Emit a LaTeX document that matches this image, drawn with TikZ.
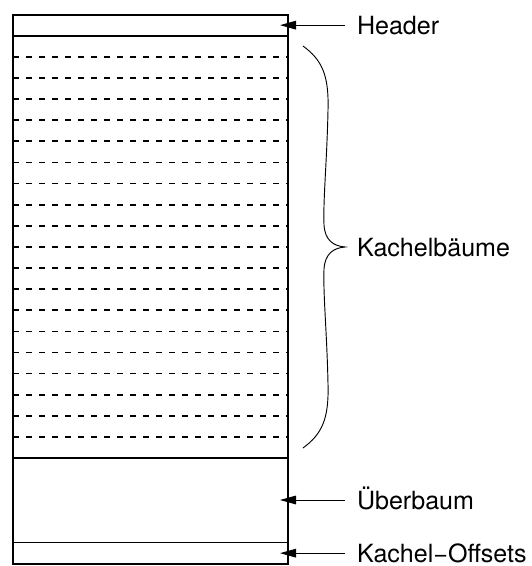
\documentclass[tikz,border=0pt]{standalone}
\usepackage{fontspec}
\setmainfont{TeX Gyre Heros}
\usetikzlibrary{arrows.meta}
\begin{document}
\begin{tikzpicture}[x=0.75pt,y=-0.75pt,
  frame/.style={line width=1.4pt},
  sep/.style={line width=1.3pt},
  dashsep/.style={line width=1.25pt,dash pattern=on 4.5pt off 5.25pt},
  thin/.style={line width=0.7pt},
  arr/.style={thin,-{Triangle[length=12pt,width=6.5pt]}},
  lbl/.style={anchor=west,inner xsep=8.8pt,inner ysep=0pt,text height=13.5pt,text depth=0pt,
              font=\fontsize{18.8pt}{21pt}\selectfont}]
\useasboundingbox (0,0) rectangle (531,566);
\def\uu{21.12}
\def\tp{14.6}
% outer frame
\draw[frame] (13,\tp) rectangle (288,{\tp+26*\uu});
% solid separators
\foreach \k in {1,21,25} \draw[sep] (13,{\tp+\k*\uu}) -- (288,{\tp+\k*\uu});
% dashed separators
\foreach \k in {2,...,20} \draw[dashsep] (13,{\tp+\k*\uu}) -- (288,{\tp+\k*\uu});
% arrow targets
\coordinate (thdr) at (280,{\tp+0.5*\uu});
\coordinate (tueb) at (280,500);
\coordinate (toff) at (280,{\tp+25.5*\uu});
% labels
\node[lbl] (hdr) at (345,{\tp+0.5*\uu}) {Header};
\node[lbl] (ueb) at (345,500) {Überbaum};
\node[lbl] (off) at (345,{\tp+25.5*\uu}) {Kachel−Offsets};
\draw[arr] (hdr.west) -- (thdr);
\draw[arr] (ueb.west) -- (tueb);
\draw[arr] (off.west) -- (toff);
% brace
\coordinate (btip) at (345,247);
\draw[thin] (303,46) .. controls (322,60) and (329,75) .. (328,110)
  .. controls (327,160) and (323,200) .. (324,225)
  .. controls (325,240) and (333,246) .. (btip)
  .. controls (333,248) and (325,254) .. (324,269)
  .. controls (323,294) and (327,334) .. (328,384)
  .. controls (329,419) and (322,434) .. (303,448);
\node[lbl] (kb) at (btip) {Kachelbäume};
\end{tikzpicture}
\end{document}
